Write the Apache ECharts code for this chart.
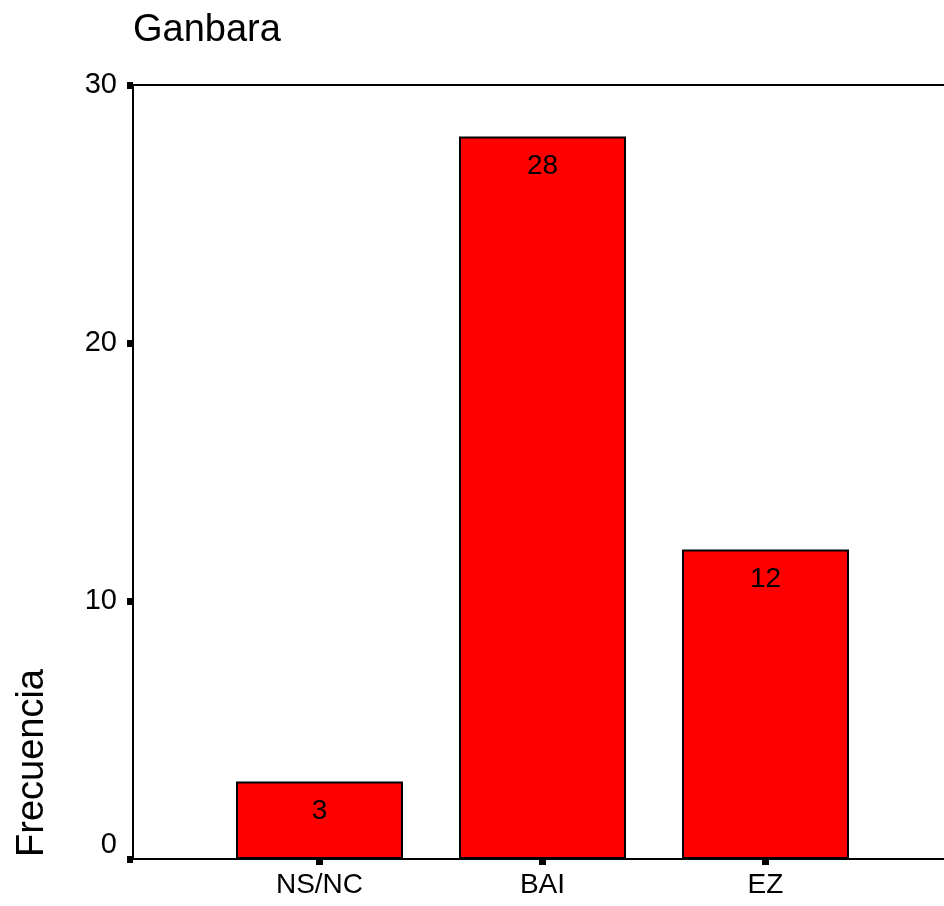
<!DOCTYPE html>
<html>
<head>
<meta charset="utf-8">
<script src="https://cdn.jsdelivr.net/npm/echarts@6/dist/echarts.min.js"></script>
<style>
  html, body { margin: 0; padding: 0; background: #fff; }
  #main { width: 944px; height: 906px; }
</style>
</head>
<body>
<div id="main"></div>
<script>
var categories = ['NS/NC', 'BAI', 'EZ'];
var counts = [3, 28, 12];
var yTicks = [0, 10, 20, 30];

var font = "'Liberation Sans', Arial, sans-serif";

var myChart = echarts.init(document.getElementById('main'));
var option = {
    animation: false,
    backgroundColor: '#fff',
    title: {
        text: 'Ganbara',
        left: 133,
        top: 12,
        padding: 0,
        textStyle: { color: '#000', fontSize: 38, fontWeight: 'normal', fontFamily: font }
    },
    grid: [
        // frame + y axis (right edge runs off the canvas)
        { left: 133, top: 85, width: 819, bottom: 47, outerBoundsMode: 'none' },
        // bars
        { left: 208, top: 85, width: 669, bottom: 47, outerBoundsMode: 'none' }
    ],
    xAxis: [
        // bottom and top frame lines
        { gridIndex: 0, type: 'value', position: 'bottom', axisLine: { show: true, onZero: false, lineStyle: { color: '#000', width: 2 } },
          axisTick: { show: false }, axisLabel: { show: false }, splitLine: { show: false } },
        { gridIndex: 0, type: 'value', position: 'top', axisLine: { show: true, onZero: false, lineStyle: { color: '#000', width: 2 } },
          axisTick: { show: false }, axisLabel: { show: false }, splitLine: { show: false } },
        {
            gridIndex: 1,
            type: 'category',
            data: categories,
            axisLine: { show: false },
            axisTick: { show: true, alignWithLabel: true, length: 6, lineStyle: { color: '#000', width: 7 } },
            axisLabel: { color: '#000', fontSize: 28, fontFamily: font, margin: 12 }
        }
    ],
    yAxis: [
        {
            gridIndex: 0,
            type: 'value',
            min: yTicks[0],
            max: yTicks[yTicks.length - 1],
            interval: 10,
            splitLine: { show: false },
            axisLine: { show: true, lineStyle: { color: '#000', width: 2 } },
            axisTick: { show: true, length: 6, lineStyle: { color: '#000', width: 7 } },
            axisLabel: {
                color: '#000', fontSize: 29, fontFamily: font, margin: 16,
                formatter: function (v) { return v === 0 ? '{z|0}' : String(v); },
                rich: { z: { fontSize: 29, fontFamily: font, color: '#000', padding: [0, 0, 28, 0] } }
            }
        },
        { gridIndex: 1, type: 'value', min: 0, max: 30, show: false }
    ],
    graphic: [
        {
            type: 'text',
            x: 33,
            y: 763,
            rotation: Math.PI / 2,
            style: { text: 'Frecuencia', font: '38px ' + font, fill: '#000', textAlign: 'center', textVerticalAlign: 'middle' }
        }
    ],
    series: [
        {
            type: 'bar',
            xAxisIndex: 2,
            yAxisIndex: 1,
            data: counts,
            barWidth: 167,
            itemStyle: { color: '#ff0000', borderColor: '#000', borderWidth: 2 },
            label: { show: true, position: 'insideTop', distance: 16, color: '#000', fontSize: 28, fontFamily: font }
        }
    ]
};
myChart.setOption(option);
</script>
</body>
</html>
